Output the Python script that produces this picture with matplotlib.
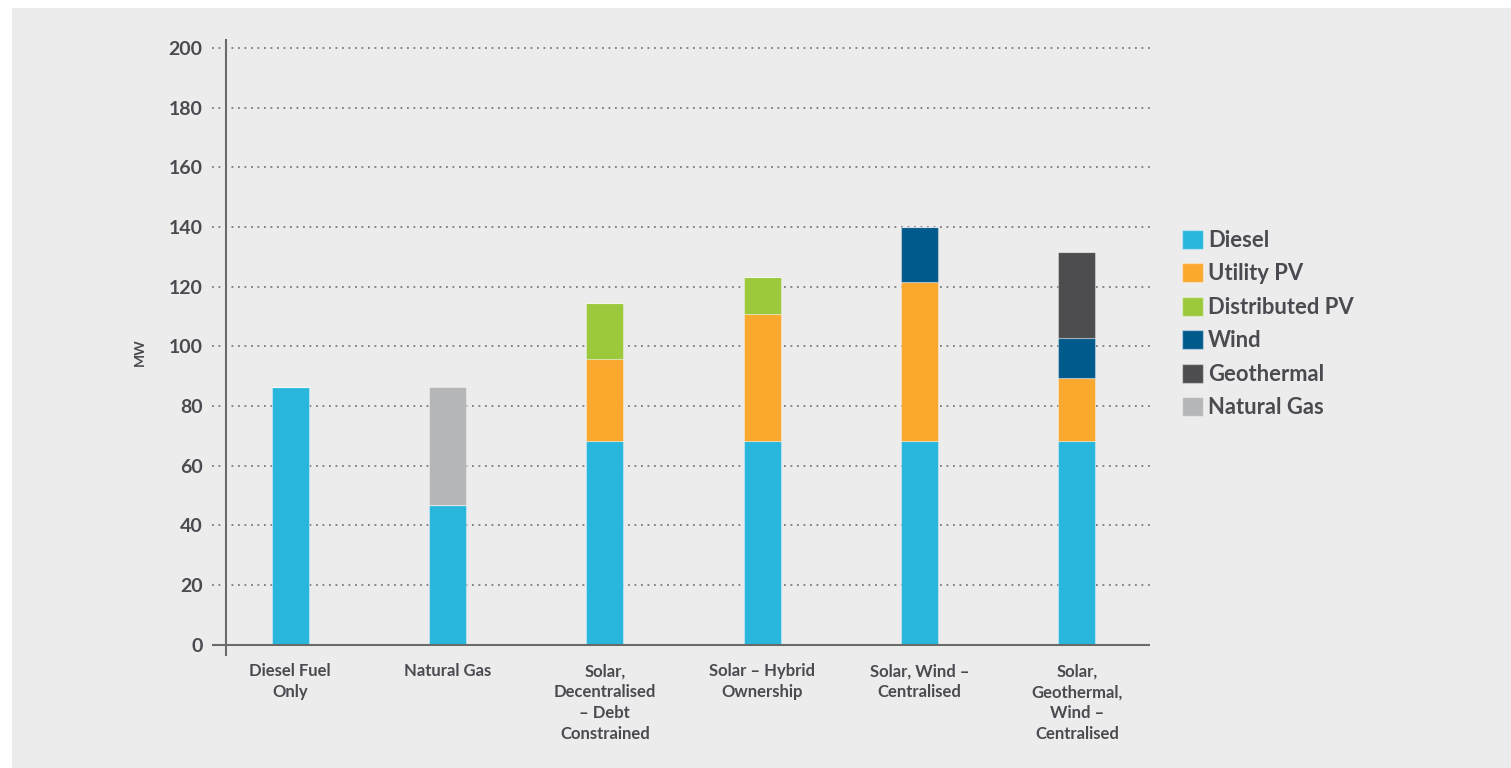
import matplotlib
matplotlib.use("Agg")
import matplotlib.pyplot as plt
from matplotlib.patches import Patch, Rectangle

# scenario names and MW per source (segments, bottom to top)
categories = ["Diesel Fuel\nOnly", "Natural Gas", "Solar,\nDecentralised\n\u2013 Debt\nConstrained",
              "Solar \u2013 Hybrid\nOwnership", "Solar, Wind \u2013\nCentralised",
              "Solar,\nGeothermal,\nWind \u2013\nCentralised"]
diesel = [86.3, 46.8, 68.2, 68.2, 68.2, 68.2]
utility_pv = [0, 0, 27.6, 42.7, 53.4, 21.3]
distributed_pv = [0, 0, 18.9, 12.5, 0, 0]
wind = [0, 0, 0, 0, 18.3, 13.4]
geothermal = [0, 0, 0, 0, 0, 28.8]
natural_gas = [0, 39.5, 0, 0, 0, 0]
y_ticks = [0, 20, 40, 60, 80, 100, 120, 140, 160, 180, 200]

series = [
    ("Diesel", diesel, "#29b6dc"),
    ("Utility PV", utility_pv, "#fba82e"),
    ("Distributed PV", distributed_pv, "#9bc93b"),
    ("Wind", wind, "#005a8c"),
    ("Geothermal", geothermal, "#4d4d4f"),
    ("Natural Gas", natural_gas, "#b5b6b8"),
]

text_col = "#4a4a50"
plt.rcParams["font.family"] = ["Lato", "DejaVu Sans"]

fig = plt.figure(figsize=(15.11, 7.68), dpi=100, facecolor="white")
# grey panel with a thin white margin top/left
fig.patches.append(Rectangle((12 / 1511, 0), 1, 1 - 8 / 768, transform=fig.transFigure,
                             facecolor="#ececec", edgecolor="none", zorder=-5))

ax = fig.add_axes([212 / 1511, 113 / 768, 938 / 1511, 615 / 768])
ax.set_facecolor("none")

x = list(range(len(categories)))
bottom = [0] * len(categories)
for name, vals, col in series:
    ax.bar(x, vals, width=0.235, bottom=bottom, color=col,
           edgecolor=(1, 1, 1, 0.35), linewidth=0.8, zorder=2)
    bottom = [b + v for b, v in zip(bottom, vals)]

ax.set_xlim(-0.496, 5.464)
ax.set_ylim(-3.4, 202.7)

# spines first: moving a spine resets the ticks of its axis
for s in ["top", "right", "bottom"]:
    ax.spines[s].set_visible(False)
ax.spines["left"].set_position(("axes", 14 / 938))
ax.spines["left"].set_color("#6a6a6a")
ax.spines["left"].set_linewidth(1.5)
ax.axhline(0, color="#6a6a6a", linewidth=1.5, zorder=3)

ax.tick_params(axis="both", length=0)
# labels follow the moved spine, so the pad is measured from the spine
ax.tick_params(axis="y", pad=17, labelsize=14, labelcolor=text_col)
ax.tick_params(axis="x", pad=6, labelsize=12, labelcolor=text_col)

ax.set_yticks(y_ticks)
ax.set_yticklabels([str(t) for t in y_ticks], fontweight="bold", fontsize=14)
ax.set_xticks(x)
ax.set_xticklabels(categories, fontweight="bold", fontsize=12, linespacing=1.38)

ax.grid(axis="y", color="#7a7a7a", linestyle=(0, (1, 2.6)), linewidth=1.3, zorder=0)
ax.set_axisbelow(True)

fig.text(140 / 1511, 1 - 352 / 768, "MW", rotation=90, ha="center", va="center",
         fontsize=10, fontweight="bold", color=text_col)

handles = [Patch(facecolor=col, edgecolor=(1, 1, 1, 0.4), label=name) for name, _, col in series]
leg = fig.legend(handles=handles, loc="upper left", bbox_to_anchor=(1173 / 1511, 1 - 221 / 768),
                 frameon=False, fontsize=15.8, handlelength=0.95, handleheight=0.95,
                 handletextpad=0.25, labelspacing=0.57, borderaxespad=0)
for t in leg.get_texts():
    t.set_color(text_col)
    t.set_fontweight("bold")

fig.savefig("out.png", dpi=100, facecolor=fig.get_facecolor())
